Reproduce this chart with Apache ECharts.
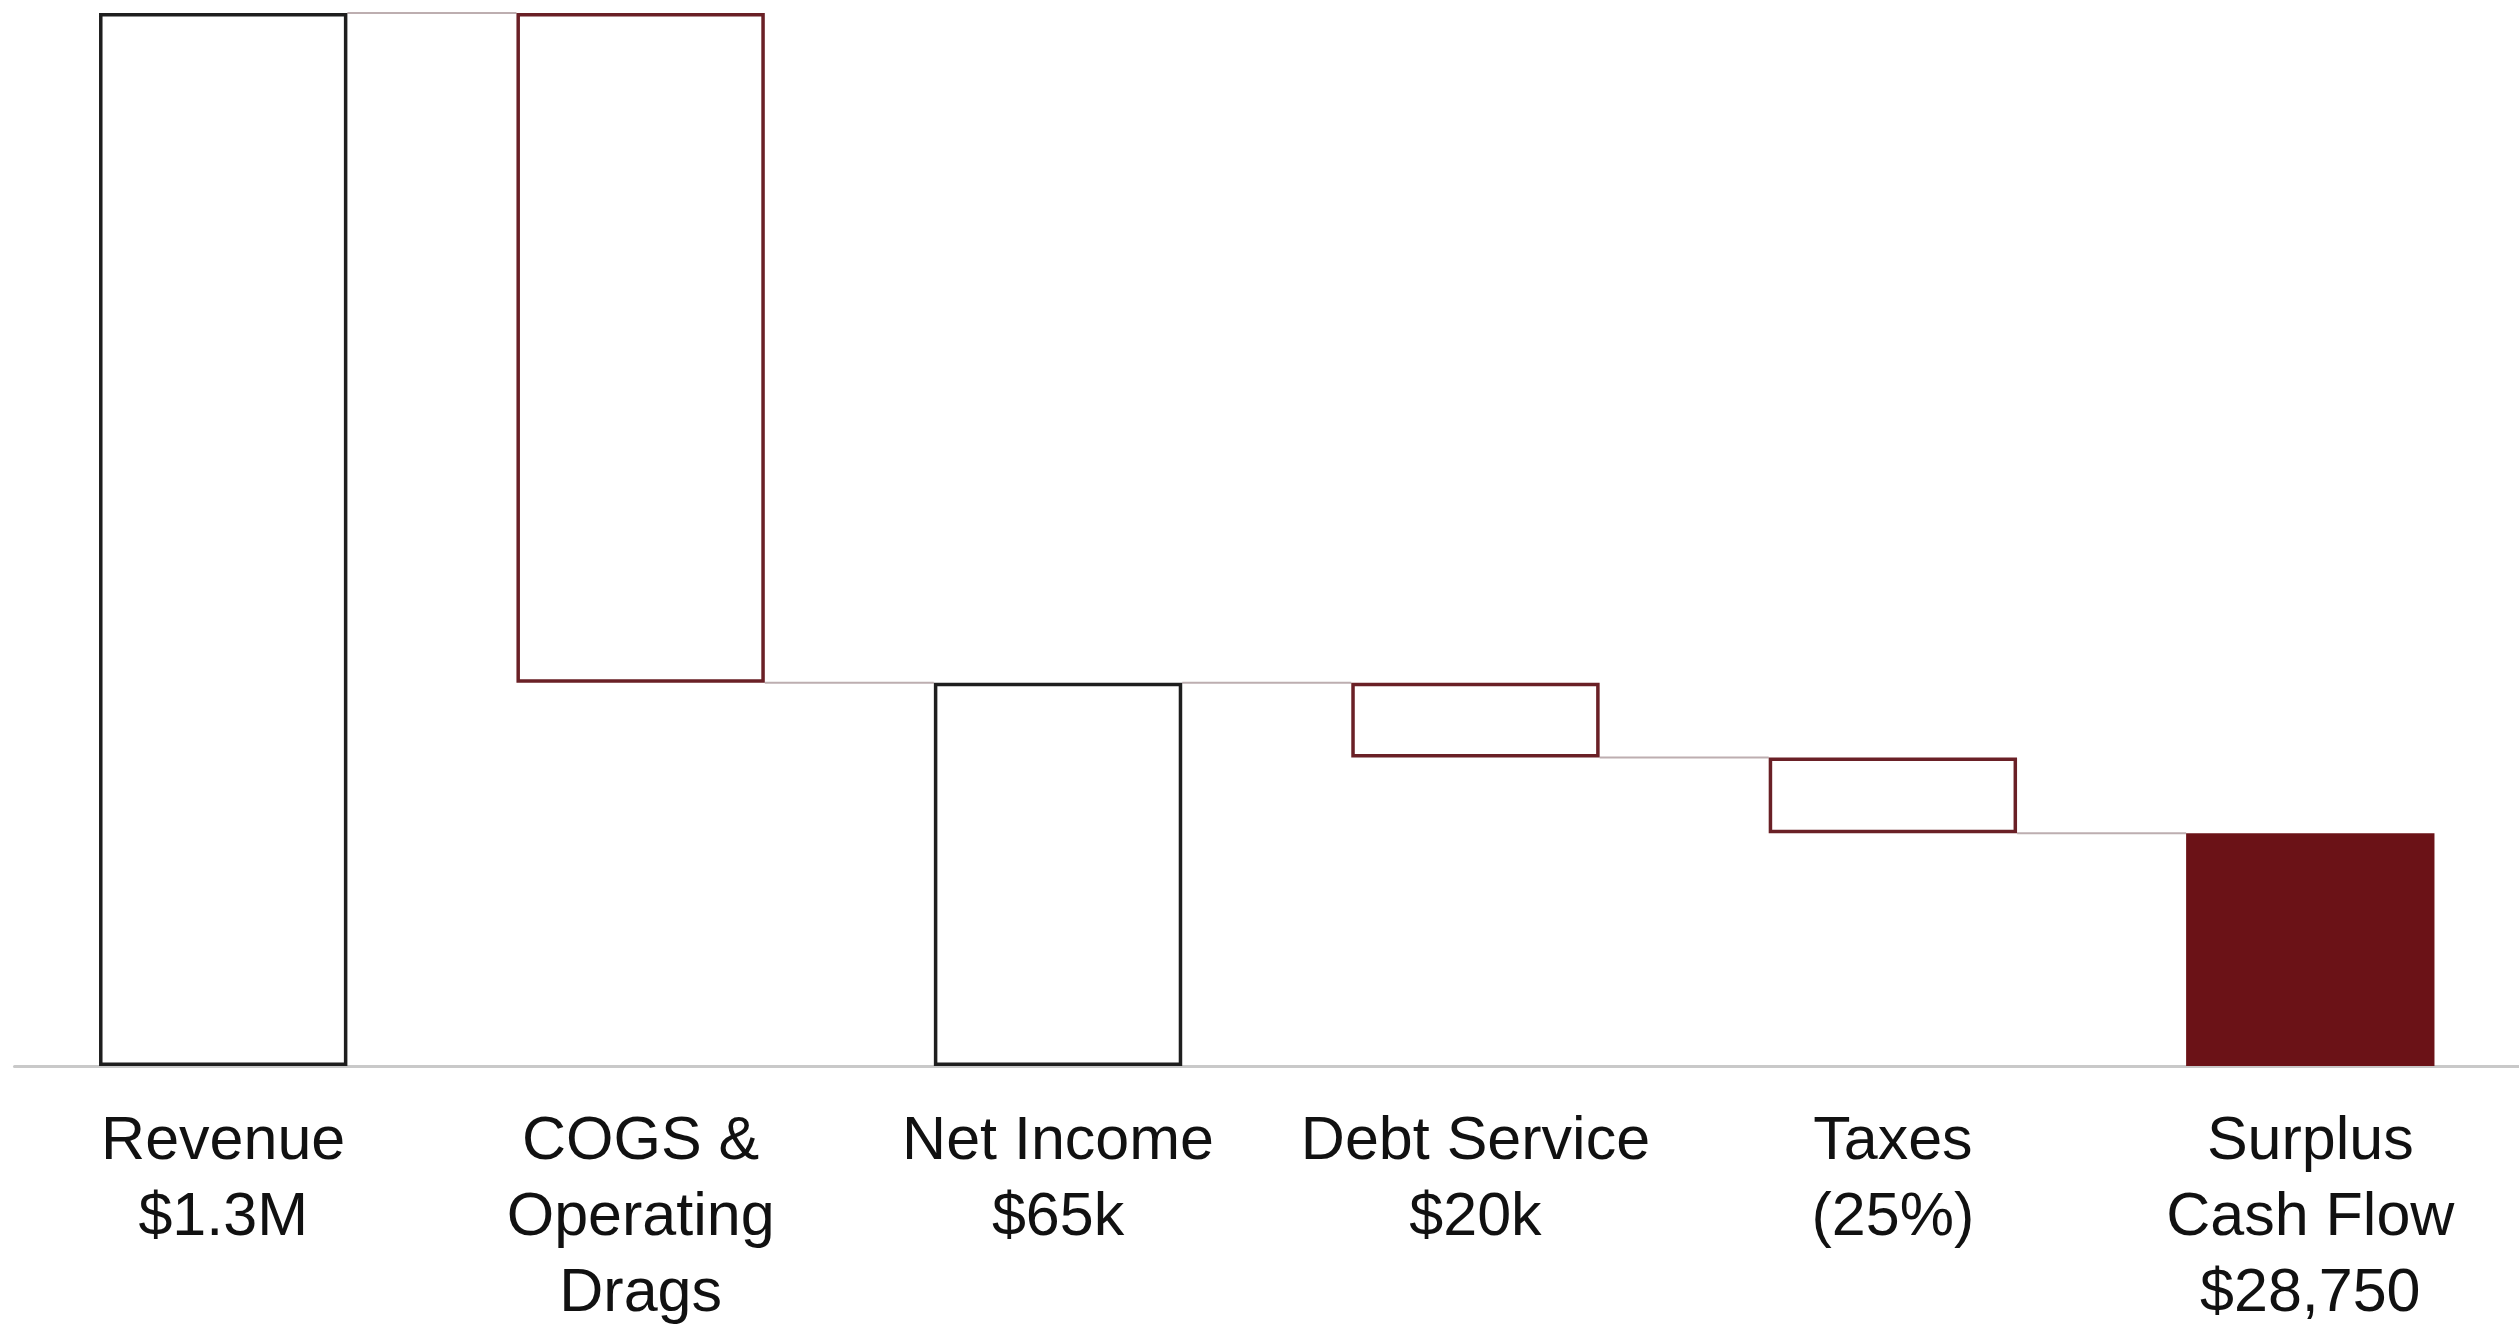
<!DOCTYPE html>
<html>
<head>
<meta charset="utf-8">
<script src="https://cdn.jsdelivr.net/npm/echarts@6/dist/echarts.min.js"></script>
<style>
html,body{margin:0;padding:0;background:#fff;}
#chart{width:2519px;height:1332px;}
</style>
</head>
<body>
<div id="chart"></div>
<script>
// Categories (axis labels)
const categories = [
  "Revenue\n$1.3M",
  "COGS &\nOperating\nDrags",
  "Net Income\n$65k",
  "Debt Service\n$20k",
  "Taxes\n(25%)",
  "Surplus\nCash Flow\n$28,750"
];
// Visual bar heights (chart is schematic, not to scale)
const amounts = [100, 63.6, 36.4, 7.1, 7.2, 22.1];
// Step kinds: totals start at zero, decreases hang from the running total
const kinds = ["total", "decrease", "total", "decrease", "decrease", "total"];

// Derived waterfall bases and running levels
const bases = [];
const levels = [];
let running = 0;
for (let i = 0; i < amounts.length; i++) {
  if (kinds[i] === "total") {
    bases.push(0);
    running = amounts[i];
  } else {
    running = running - amounts[i];
    bases.push(running);
  }
  levels.push(running);
}
const connectors = [];
for (let i = 0; i < amounts.length - 1; i++) connectors.push([i, levels[i]]);

const BAR_RATIO = 0.595;
const styleFor = (k, i) => {
  if (i === amounts.length - 1) return { color: "#6b1217", borderColor: "#6b1217", borderWidth: 0 };
  if (k === "total") return { color: "#ffffff", borderColor: "#1e1e1e", borderWidth: 3.5 };
  return { color: "#ffffff", borderColor: "#6a2026", borderWidth: 3.5 };
};

const chart = echarts.init(document.getElementById("chart"));
chart.setOption({
  animation: false,
  backgroundColor: "#ffffff",
  grid: { left: 14.5, width: 2509, top: 13, bottom: 259 },
  xAxis: {
    type: "category",
    data: categories,
    axisLine: { show: true, lineStyle: { color: "#c9c9c9", width: 3 } },
    axisTick: { show: false },
    axisLabel: {
      interval: 0,
      margin: 38,
      color: "#111111",
      fontSize: 61,
      lineHeight: 76,
      fontFamily: "'Liberation Sans', Arial, Helvetica, sans-serif"
    }
  },
  yAxis: { type: "value", min: 0, max: 100, show: false, splitLine: { show: false } },
  series: [
    {
      type: "bar",
      stack: "wf",
      barWidth: (BAR_RATIO * 100) + "%",
      itemStyle: { color: "transparent", borderWidth: 0 },
      silent: true,
      data: bases
    },
    {
      type: "bar",
      stack: "wf",
      barWidth: (BAR_RATIO * 100) + "%",
      data: amounts.map((v, i) => ({ value: v, itemStyle: styleFor(kinds[i], i) }))
    },
    {
      type: "custom",
      coordinateSystem: "cartesian2d",
      silent: true,
      z: 1,
      renderItem: function (params, api) {
        const idx = api.value(0);
        const lvl = api.value(1);
        const p1 = api.coord([idx, lvl]);
        const p2 = api.coord([idx + 1, lvl]);
        const half = api.size([1, 0])[0] * BAR_RATIO / 2;
        return {
          type: "line",
          shape: { x1: p1[0] + half, y1: p1[1], x2: p2[0] - half, y2: p2[1] },
          style: { stroke: "#bdaeb0", lineWidth: 2 }
        };
      },
      data: connectors
    }
  ]
});
</script>
</body>
</html>
